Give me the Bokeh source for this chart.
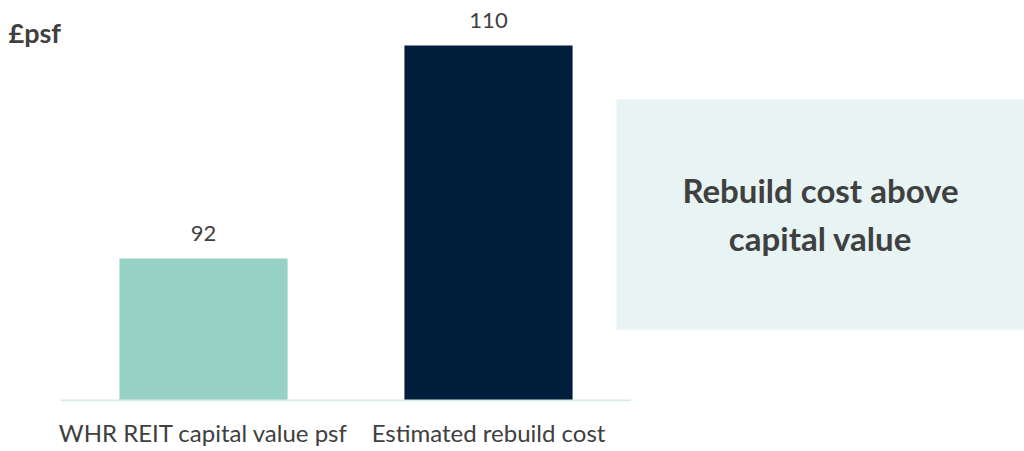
from bokeh.plotting import figure
from bokeh.models import ColumnDataSource, Range1d, FixedTicker, BoxAnnotation
from bokeh.core.properties import value
from bokeh.embed import file_html
from bokeh.resources import INLINE

# ---- data ----
categories = ["WHR REIT capital value psf", "Estimated rebuild cost"]
values = [92, 110]
value_labels = ["92", "110"]
bar_colors = ["#97D1C3", "#001E3C"]
y_floor = 80
unit_label = "£psf"
callout_text = "Rebuild cost above\ncapital value"

FONT = "Lato"
TEXT_COLOR = "#404040"

xs = list(range(len(categories)))

# view ranges (layout)
x_start, x_end = -0.7123, 2.8807
y_start, y_end = 79.915, 113.80

p = figure(width=1024, height=451, x_range=Range1d(x_start, x_end),
           y_range=Range1d(y_start, y_end), output_backend="svg",
           toolbar_location=None, y_axis_location=None,
           min_border_left=0, min_border_right=0, min_border_top=0,
           min_border_bottom=50)
p.outline_line_color = None
p.xgrid.visible = False
p.ygrid.visible = False
p.background_fill_color = "white"

src = ColumnDataSource(dict(x=xs, value=values, label=value_labels,
                            color=bar_colors))

p.vbar(x="x", top="value", bottom=y_floor, width=0.59, fill_color="color",
       line_color=None, source=src)

# baseline under the categories
p.segment(x0=[-0.5], y0=[y_floor], x1=[len(categories) - 0.5], y1=[y_floor],
          line_color="#D5EBE5", line_width=2)

# value labels
p.text(x="x", y="value", text="label", source=src, text_align="center",
       text_baseline="bottom", y_offset=-17, text_font=value(FONT),
       text_font_size="22px", text_color=TEXT_COLOR)

# x axis with category labels
ax = p.xaxis[0]
ax.ticker = FixedTicker(ticks=xs)
ax.major_label_overrides = {i: c for i, c in enumerate(categories)}
ax.axis_line_color = None
ax.major_tick_line_color = None
ax.minor_tick_line_color = None
ax.major_label_standoff = 10
ax.major_label_text_font = FONT
ax.major_label_text_font_size = "24px"
ax.major_label_text_color = TEXT_COLOR

# unit label top-left
p.text(x=[x_start], y=[y_end], text=[unit_label], x_offset=8, y_offset=32,
       text_align="left", text_baseline="alphabetic", text_font=value(FONT),
       text_font_style="bold", text_font_size="27px", text_color=TEXT_COLOR)

# callout box
box_left, box_right = 1.449, x_end
box_bottom, box_top = 86.0, 105.44
p.add_layout(BoxAnnotation(left=box_left, right=box_right, bottom=box_bottom,
                           top=box_top, fill_color="#E7F4F3", fill_alpha=1,
                           line_color=None, level="underlay"))
p.text(x=[(box_left + box_right) / 2], y=[(box_bottom + box_top) / 2],
       text=[callout_text], text_align="center", text_baseline="middle",
       text_line_height=1.2, text_font=value(FONT), text_font_style="bold",
       text_font_size="33px", text_color=TEXT_COLOR)

open("out.html", "w").write(file_html(p, INLINE))
